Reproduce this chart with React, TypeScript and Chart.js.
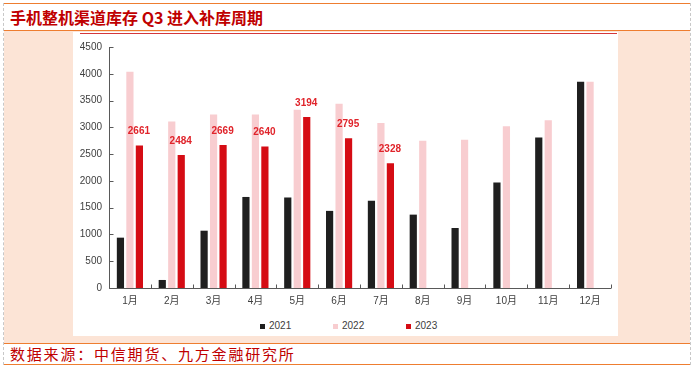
import React, { useEffect, useRef } from "react";
import { Chart, registerables } from "chart.js";

Chart.register(...registerables);

const categories = ["1月", "2月", "3月", "4月", "5月", "6月", "7月", "8月", "9月", "10月", "11月", "12月"];
const series2021 = [940, 150, 1070, 1700, 1690, 1440, 1630, 1370, 1120, 1970, 2810, 3850];
const series2022 = [4040, 3110, 3240, 3240, 3330, 3440, 3080, 2750, 2770, 3020, 3130, 3850];
const series2023: (number | null)[] = [2661, 2484, 2669, 2640, 3194, 2795, 2328, null, null, null, null, null];
const seriesNames = ["2021", "2022", "2023"];
const seriesColors = ["#1f1f1f", "#f8cdd0", "#d50c14"];
const yTicksMax = 4500;
const yTicksStep = 500;

const TITLE = "手机整机渠道库存 Q3 进入补库周期";
const SOURCE = "数据来源：中信期货、九方金融研究所";

const FONT = "'Liberation Sans', 'Noto Sans CJK SC', sans-serif";

const axesPlugin = {
  id: "customAxes",
  afterDatasetsDraw(chart: any) {
    const { ctx, chartArea, scales } = chart;
    const x = scales.x;
    const y = scales.y;
    ctx.save();
    ctx.strokeStyle = "#595959";
    ctx.lineWidth = 1;
    const left = Math.round(chartArea.left) + 0.5;
    const bottom = Math.round(chartArea.bottom) + 0.5;
    ctx.beginPath();
    ctx.moveTo(left, chartArea.top);
    ctx.lineTo(left, bottom);
    ctx.lineTo(chartArea.right, bottom);
    ctx.stroke();
    // y ticks (inward)
    y.ticks.forEach((t: any) => {
      const py = Math.round(y.getPixelForValue(t.value)) + 0.5;
      ctx.beginPath();
      ctx.moveTo(left, py);
      ctx.lineTo(left + 4, py);
      ctx.stroke();
    });
    // x ticks at category boundaries (inward)
    const half = (x.getPixelForValue(1) - x.getPixelForValue(0)) / 2;
    for (let i = 0; i <= categories.length; i++) {
      const px = Math.round(x.getPixelForValue(i) - half) + 0.5;
      ctx.beginPath();
      ctx.moveTo(px, bottom);
      ctx.lineTo(px, bottom - 4);
      ctx.stroke();
    }
    // data labels for 2023
    const meta = chart.getDatasetMeta(2);
    ctx.fillStyle = "#e0242b";
    ctx.font = "bold 10px " + FONT;
    ctx.textAlign = "center";
    ctx.textBaseline = "middle";
    meta.data.forEach((el: any, i: number) => {
      const v = series2023[i];
      if (v == null) return;
      ctx.fillText(String(v), el.x - 0.5, el.y - 14);
    });
    ctx.restore();
  },
};

export default function App() {
  const ref = useRef<HTMLCanvasElement | null>(null);

  useEffect(() => {
    document.body.style.margin = "0";
    if (!ref.current) return;
    const chart = new Chart(ref.current, {
      type: "bar",
      data: {
        labels: categories,
        datasets: [
          { label: seriesNames[0], data: series2021, backgroundColor: seriesColors[0] },
          { label: seriesNames[1], data: series2022, backgroundColor: seriesColors[1] },
          { label: seriesNames[2], data: series2023, backgroundColor: seriesColors[2] },
        ],
      },
      options: {
        responsive: false,
        animation: false,
        devicePixelRatio: 1,
        layout: { padding: { top: 7, right: 7, left: 0, bottom: 0 } },
        datasets: { bar: { categoryPercentage: 0.68, barPercentage: 0.76 } },
        plugins: { legend: { display: false }, tooltip: { enabled: false } },
        scales: {
          x: {
            grid: { display: false, drawTicks: false },
            border: { display: false },
            ticks: { color: "#404040", font: { size: 10, family: FONT }, padding: 7, maxRotation: 0 },
            afterFit: (s: any) => { s.height = 26; },
          },
          y: {
            min: 0,
            max: yTicksMax,
            grid: { display: false, drawTicks: false },
            border: { display: false },
            ticks: {
              stepSize: yTicksStep,
              color: "#404040",
              font: { size: 10, family: FONT },
              padding: 7,
              callback: (v: any) => String(v),
            },
            afterFit: (s: any) => { s.width = 36; },
          },
        },
      } as any,
      plugins: [axesPlugin],
    });
    return () => chart.destroy();
  }, []);

  const orange = "#ee7d30";
  const abs = (s: React.CSSProperties): React.CSSProperties => ({ position: "absolute", ...s });

  return (
    <div style={{ position: "fixed", left: 0, top: 0, width: 694, height: 368, background: "#fff", overflow: "hidden", fontFamily: "'Noto Sans CJK SC', sans-serif" }}>
      <div style={abs({ left: 4, top: 31, width: 686, height: 312, background: "#fce4d6" })} />
      <div style={abs({ left: 73, top: 32, width: 545, height: 304, background: "#fff" })} />
      <div style={abs({ left: 80, top: 33, width: 537, height: 1, background: "#d4373b" })} />
      <div style={abs({ left: 3, top: 3, width: 688, height: 1, background: orange })} />
      <div style={abs({ left: 3, top: 30, width: 688, height: 1, background: orange })} />
      <div style={abs({ left: 3, top: 343, width: 688, height: 1, background: orange })} />
      <div style={abs({ left: 3, top: 364, width: 688, height: 1, background: orange })} />
      <div style={abs({ left: 3, top: 3, height: 362, width: 0, borderLeft: "1px dashed #c8c8c8" })} />
      <div style={abs({ left: 690, top: 3, height: 362, width: 0, borderLeft: "1px dashed #c8c8c8" })} />
      <div style={abs({ left: 10, top: 6, fontSize: 16, lineHeight: "22px", fontWeight: 700, color: "#c00000", whiteSpace: "nowrap" })}>{TITLE}</div>
      <div style={abs({ left: 10, top: 343, fontSize: 15, lineHeight: "21px", letterSpacing: "1.8px", color: "#c00000", whiteSpace: "nowrap" })}>{SOURCE}</div>
      <canvas ref={ref} width={545} height={280} style={abs({ left: 73, top: 34, width: 545, height: 280 })} />
      {seriesNames.map((n, i) => {
        const sq = [260, 333, 406][i];
        return (
          <React.Fragment key={n}>
            <div style={abs({ left: sq, top: 324, width: 5, height: 5, background: seriesColors[i] })} />
            <div style={abs({ left: sq + 9, top: 320, fontSize: 10, lineHeight: "12px", color: "#404040", fontFamily: FONT })}>{n}</div>
          </React.Fragment>
        );
      })}
    </div>
  );
}
